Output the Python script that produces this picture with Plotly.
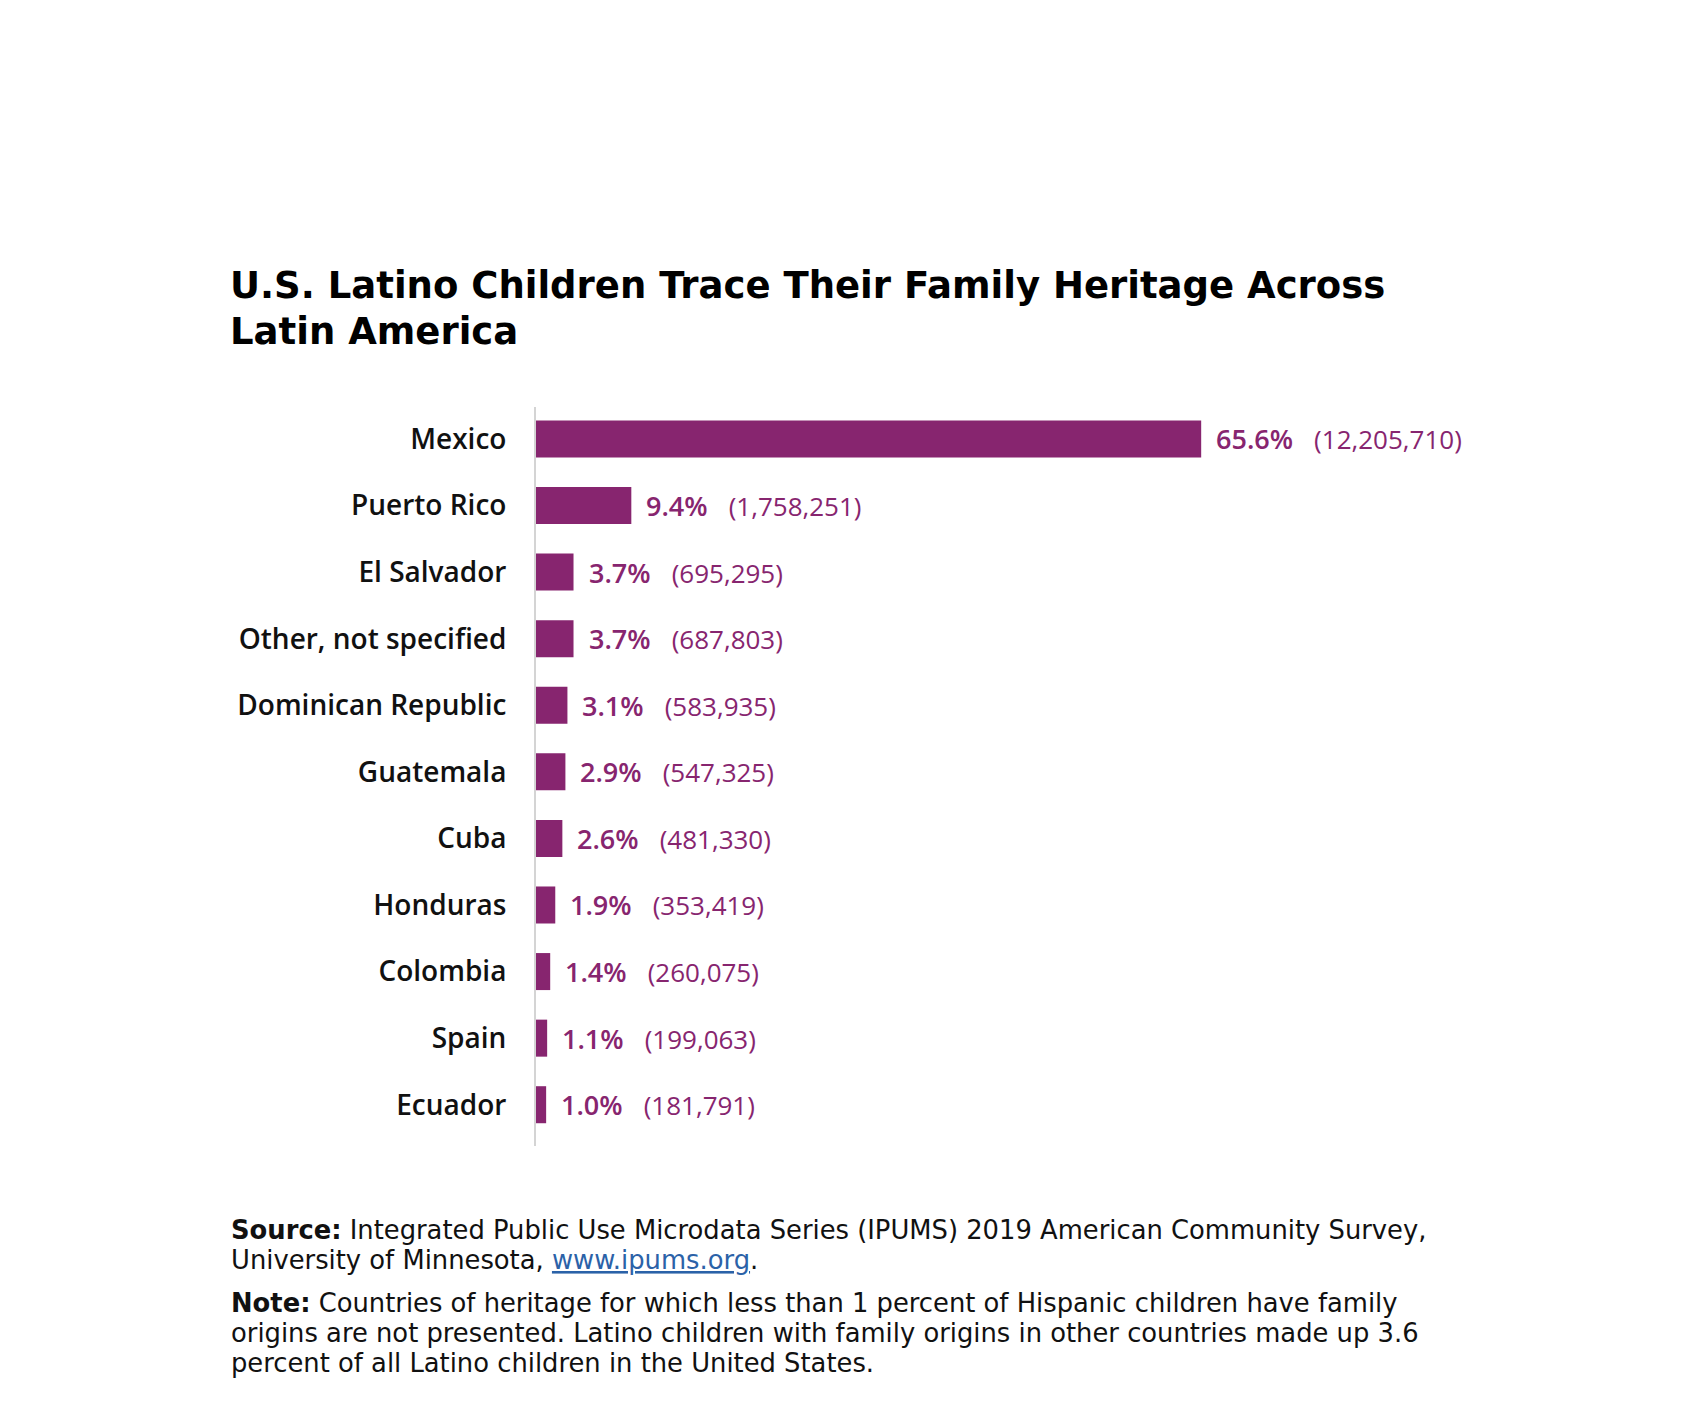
import plotly.graph_objects as go

categories = ["Mexico", "Puerto Rico", "El Salvador", "Other, not specified",
              "Dominican Republic", "Guatemala", "Cuba", "Honduras", "Colombia",
              "Spain", "Ecuador"]
percents = [65.6, 9.4, 3.7, 3.7, 3.1, 2.9, 2.6, 1.9, 1.4, 1.1, 1.0]
counts = ["12,205,710", "1,758,251", "695,295", "687,803", "583,935", "547,325",
          "481,330", "353,419", "260,075", "199,063", "181,791"]

title_lines = ["U.S. Latino Children Trace Their Family Heritage Across", "Latin America"]
footer_lines = [
    "<b>Source:</b> Integrated Public Use Microdata Series (IPUMS) 2019 American Community Survey,",
    "University of Minnesota, <span style='color:#2b62a8;text-decoration:underline'>www.ipums.org</span>.",
    "<b>Note:</b> Countries of heritage for which less than 1 percent of Hispanic children have family",
    "origins are not presented. Latino children with family origins in other countries made up 3.6",
    "percent of all Latino children in the United States.",
]

PURPLE = "#87256f"
W, H = 1700, 1411
L, R, T, B = 528, 108, 399, 273
PW, PH = W - L - R, H - T - B


def px_x(x):
    return (x - L) / PW


def px_y(y):
    return (H - B - y) / PH


fig = go.Figure()
fig.add_trace(go.Bar(
    x=percents, y=categories, orientation="h",
    marker=dict(color=PURPLE, line=dict(width=0)),
    width=0.556, hoverinfo="skip",
))

for c, p, n in zip(categories, percents, counts):
    fig.add_annotation(
        x=p, y=c, xref="x", yref="y", xanchor="left", yanchor="middle",
        xshift=13, showarrow=False,
        text=(f"<span style='font-weight:600'>{p:.1f}%</span>\u00a0\u00a0\u00a0"
              f"<span style='font-size:26px'>({n})</span>"),
        font=dict(family="Open Sans", size=27, color=PURPLE),
    )

for i, line in enumerate(title_lines):
    fig.add_annotation(
        x=px_x(220), y=px_y(277 + i * 46), xref="paper", yref="paper",
        xanchor="left", yanchor="middle", align="left", showarrow=False,
        text=f"<b>{line}</b>",
        font=dict(family="DejaVu Sans", size=37, color="#000000"),
    )

footer_y = [1222, 1252, 1294.5, 1325, 1355]
for line, yy in zip(footer_lines, footer_y):
    fig.add_annotation(
        x=px_x(221), y=px_y(yy), xref="paper", yref="paper",
        xanchor="left", yanchor="middle", align="left", showarrow=False,
        text=line, font=dict(family="DejaVu Sans", size=25.8, color="#111111"),
    )

fig.update_layout(
    width=W, height=H,
    margin=dict(l=L, r=R, t=T, b=B, autoexpand=False),
    paper_bgcolor="white", plot_bgcolor="white",
    showlegend=False,
    xaxis=dict(range=[0, PW / 10.14], showgrid=False, zeroline=False,
               showticklabels=False, showline=False, fixedrange=True),
    yaxis=dict(categoryorder="array", categoryarray=categories,
               autorange=False, range=[10.62, -0.48],
               showgrid=False, zeroline=False, showline=True,
               linecolor="#d4d4d4", linewidth=2, ticks="",
               ticklabelstandoff=22,
               tickfont=dict(family="Open Sans", size=28, color="#111111", weight=600)),
    font=dict(family="Open Sans"),
)

fig.write_html("out.html")
